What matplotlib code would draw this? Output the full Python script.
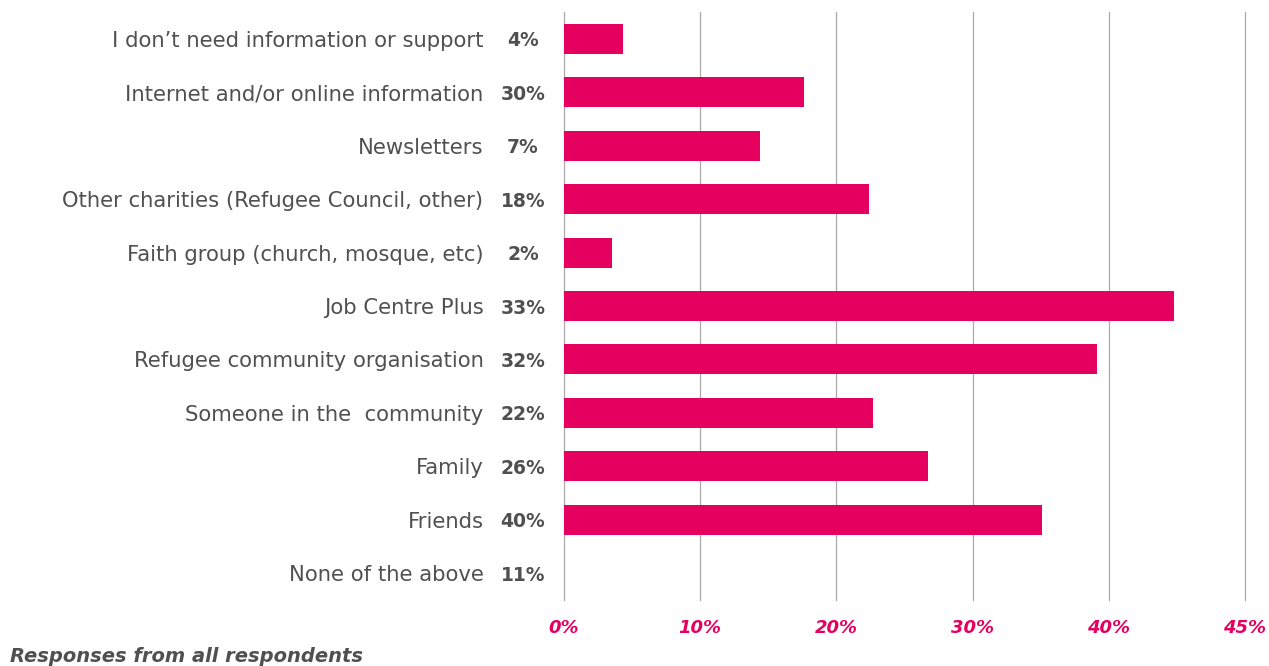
import matplotlib
matplotlib.use("Agg")
import matplotlib.pyplot as plt

# Source of information / support, top to bottom
categories = [
    "I don\u2019t need information or support",
    "Internet and/or online information",
    "Newsletters",
    "Other charities (Refugee Council, other)",
    "Faith group (church, mosque, etc)",
    "Job Centre Plus",
    "Refugee community organisation",
    "Someone in the  community",
    "Family",
    "Friends",
    "None of the above",
]
# bar lengths (percent of respondents)
bar_values = [4.3, 17.6, 14.4, 22.4, 3.5, 44.8, 39.1, 22.7, 26.7, 35.1, 0.0]
# share printed next to each category
share_labels = ["4%", "30%", "7%", "18%", "2%", "33%", "32%", "22%", "26%", "40%", "11%"]

x_ticks = [0, 10, 20, 30, 40, 50]
x_tick_labels = ["0%", "10%", "20%", "30%", "40%", "45%"]

PINK = "#E5005F"
GREY = "#505050"
GRID = "#aaaaaa"
FONT = ["DejaVu Sans"]

fig = plt.figure(figsize=(12.69, 6.66), dpi=100)
ax = fig.add_axes([564 / 1269, 66 / 666, 681 / 1269, 588 / 666])

y = list(range(len(categories)))
ax.barh(y, bar_values, height=0.56, color=PINK, zorder=3)

ax.set_xlim(0, 50)
ax.set_ylim(len(categories) - 0.5, -0.5)

ax.set_xticks(x_ticks)
ax.set_xticklabels(x_tick_labels, fontsize=13, fontweight="bold",
                   fontstyle="italic", color=PINK, family=FONT)
ax.set_yticks(y)
ax.set_yticklabels(categories, fontsize=15.2, color=GREY, family=FONT)
for t in ax.get_yticklabels():
    t.set_va("center_baseline")
ax.tick_params(axis="y", length=0, pad=58)
ax.tick_params(axis="x", length=0, pad=14)

ax.grid(axis="x", color=GRID, linewidth=0.9, zorder=0)
# keep the outermost gridline visible at the axes edge
for gl in ax.get_xgridlines():
    gl.set_clip_on(False)
for s in ax.spines.values():
    s.set_visible(False)

for yi, lab in zip(y, share_labels):
    ax.annotate(lab, xy=(0, yi), xycoords=("axes fraction", "data"),
                xytext=(-29.5, 0), textcoords="offset points",
                ha="center", va="center_baseline", fontsize=13.5,
                fontweight="bold", color=GREY, family=FONT)

fig.text(10 / 1269, 1 - 656 / 666, "Responses from all respondents",
         fontsize=14, fontweight="bold", fontstyle="italic", color=GREY,
         family=FONT, ha="left", va="center")

fig.savefig("out.png", dpi=100)
